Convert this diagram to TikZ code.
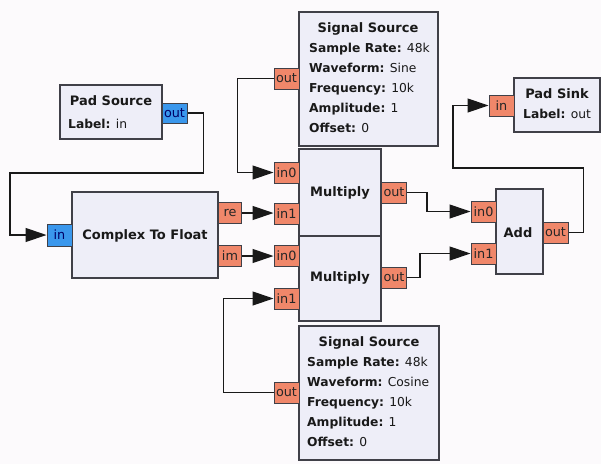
\documentclass[tikz,border=0pt]{standalone}
\usepackage{fontspec}
\setmainfont{DejaVu Sans}
\usetikzlibrary{arrows.meta}

\definecolor{cfond}{HTML}{FCFAFC}
\definecolor{cbloc}{HTML}{EEEEF8}
\definecolor{cbord}{HTML}{404048}
\definecolor{corange}{HTML}{F0876A}
\definecolor{cbleu}{HTML}{3A97EC}

\begin{document}
\begin{tikzpicture}[x=1pt,y=-1pt]

% définition des styles
\tikzstyle{bloc}=[draw=cbord,fill=cbloc,line width=1.1pt,inner sep=0pt]
\tikzstyle{port}=[draw=cbord,fill=corange,line width=1pt,inner sep=0pt,minimum width=25pt,minimum height=21pt,text=black!85,font=\fontsize{12.8}{12.8}\selectfont]
\tikzstyle{portb}=[port,fill=cbleu,text=blue!40!black]
\tikzstyle{titre}=[anchor=base,inner sep=0pt,text=black!90,font=\bfseries\fontsize{13}{20}\selectfont]
\tikzstyle{param}=[anchor=north west,inner sep=0pt,align=left,text=black!90,font=\fontsize{12.3}{20}\selectfont]
\tikzstyle{fil}=[draw=black!90,line width=1.2pt]
\tikzstyle{fleche}=[fil,-{Triangle[length=21pt,width=14pt]}]

% le fond
\fill[cfond] (0,0) rectangle (601,464);

% les blocs
\node[bloc,minimum width=102pt,minimum height=54pt] (psrc) at (111,112) {};
\node[bloc,minimum width=146pt,minimum height=86pt] (ctf) at (145,235) {};
\node[bloc,minimum width=139pt,minimum height=134pt] (sig1) at (368.5,79) {};
\node[bloc,minimum width=82pt,minimum height=87pt] (mul1) at (340,192.5) {};
\node[bloc,minimum width=82pt,minimum height=85pt] (mul2) at (340,278.5) {};
\node[bloc,minimum width=140pt,minimum height=134pt] (sig2) at (369,393) {};
\node[bloc,minimum width=47pt,minimum height=85pt] (add) at (519.5,231.5) {};
\node[bloc,minimum width=86pt,minimum height=54pt] (sink) at (557,105) {};

% les textes
\node[titre] (psrc-t) at (111,105.7) {Pad Source};
\node[param] (psrc-p) at (68,119.2) {\textbf{Label:} in};
\node[titre] (ctf-t) at (145,239.7) {Complex To Float};
\node[titre] (sig1-t) at (368,32.7) {Signal Source};
\node[param] (sig1-p) at (309,43.2) {\textbf{Sample Rate:} 48k\\\textbf{Waveform:} Sine\\\textbf{Frequency:} 10k\\\textbf{Amplitude:} 1\\\textbf{Offset:} 0};
\node[titre] (mul1-t) at (340,196.7) {Multiply};
\node[titre] (mul2-t) at (340,281.4) {Multiply};
\node[titre] (sig2-t) at (369,346.7) {Signal Source};
\node[param] (sig2-p) at (307,357.2) {\textbf{Sample Rate:} 48k\\\textbf{Waveform:} Cosine\\\textbf{Frequency:} 10k\\\textbf{Amplitude:} 1\\\textbf{Offset:} 0};
\node[titre] (add-t) at (518,237) {Add};
\node[titre] (sink-t) at (557,98.7) {Pad Sink};
\node[param] (sink-p) at (523,109.2) {\textbf{Label:} out};

% les ports
\node[portb,minimum height=20pt] (psrc-out) at (174.5,113) {out};
\node[portb,minimum height=22pt] (ctf-in) at (59.5,235) {in};
\node[port,minimum width=23pt] (ctf-re) at (230,213) {re};
\node[port,minimum width=23pt] (ctf-im) at (230,256) {im};
\node[port] (sig1-out) at (286.5,78.5) {out};
\node[port] (mul1-in0) at (286.5,172.5) {in0};
\node[port] (mul1-in1) at (286.5,213.5) {in1};
\node[port] (mul1-out) at (394,192.5) {out};
\node[port] (mul2-in0) at (286.5,256) {in0};
\node[port] (mul2-in1) at (286.5,298.5) {in1};
\node[port] (mul2-out) at (394,277.5) {out};
\node[port] (sig2-out) at (286.5,392.5) {out};
\node[port] (add-in0) at (483.5,211.5) {in0};
\node[port] (add-in1) at (483.5,253.5) {in1};
\node[port] (add-out) at (555.5,232.5) {out};
\node[port] (sink-in) at (501.5,105.5) {in};

% les liaisons
\draw[fleche] (psrc-out.east) -- ++(16,0) |- (10,173) |- (ctf-in.west);
\draw[fleche] (sig1-out.west) -- ++(-36,0) |- (mul1-in0.west);
\draw[fleche] (ctf-re.east) -- (mul1-in1.west |- ctf-re.east);
\draw[fleche] (ctf-im.east) -- (mul2-in0.west);
\draw[fleche] (sig2-out.west) -- ++(-50,0) |- (mul2-in1.west);
\draw[fleche] (mul1-out.east) -- ++(20,0) |- (add-in0.west);
\draw[fleche] (mul2-out.east) -- ++(13,0) |- (add-in1.west);
\draw[fleche] (add-out.east) -- ++(15,0) |- (453,168) |- (sink-in.west);

\end{tikzpicture}
\end{document}
